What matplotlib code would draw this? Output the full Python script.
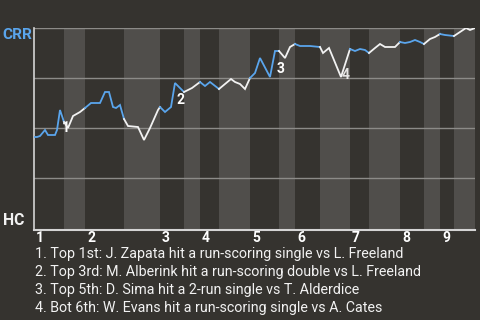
import matplotlib
matplotlib.use("Agg")
import matplotlib.pyplot as plt
import numpy as np

plt.rcParams['font.family'] = ['Roboto', 'DejaVu Sans']

# ---- data ----
# event index (x) and CRR win probability (y)
event_x = [0, 3, 6, 11, 14, 21, 23, 26, 30, 34, 39, 46, 51, 57, 66, 71, 75, 79, 82, 86, 90,
           94, 104, 110, 116, 124, 126, 131, 137, 141, 144, 150, 158, 166, 171, 176, 185,
           197, 201, 206, 211, 216, 221, 226, 236, 241, 245, 251, 256, 261, 266, 271, 276,
           286, 289, 295, 307, 316, 321, 326, 331, 335, 341, 346, 351, 361, 366, 371, 376,
           381, 386, 390, 396, 401, 406, 411, 420, 426, 432, 436, 441]
win_prob = [0.455, 0.455, 0.46, 0.49, 0.465, 0.465, 0.49, 0.59, 0.53, 0.50, 0.56, 0.58, 0.60,
            0.625, 0.625, 0.68, 0.68, 0.605, 0.60, 0.615, 0.545,
            0.51, 0.505, 0.44, 0.50, 0.59, 0.605, 0.58, 0.605, 0.725, 0.71, 0.68, 0.70, 0.73,
            0.71, 0.73, 0.695,
            0.745, 0.73, 0.72, 0.695, 0.75, 0.775, 0.85, 0.755, 0.885, 0.885, 0.85, 0.905,
            0.92, 0.91, 0.91, 0.91,
            0.905, 0.875, 0.90, 0.755, 0.895, 0.885, 0.895, 0.89, 0.875, 0.90, 0.92, 0.905,
            0.905, 0.93, 0.925, 0.93,
            0.94, 0.93, 0.92, 0.945, 0.955, 0.97, 0.965, 0.96, 0.98, 1.00, 0.99, 1.0]

# half-inning boundaries (event index): top 1st, bot 1st, top 2nd, ...
half_bounds = [0, 30, 51, 90, 126, 150, 166, 185, 216, 245, 261, 286, 316, 335, 366, 390, 406, 420, 441]
inning_labels = ['1', '2', '3', '4', '5', '6', '7', '8', '9']

event_ids = ['1', '2', '3', '4']
event_pos = [26, 141, 241, 307]
event_notes = [
    "1. Top 1st: J. Zapata hit a run-scoring single vs L. Freeland",
    "2. Top 3rd: M. Alberink hit a run-scoring double vs L. Freeland",
    "3. Top 5th: D. Sima hit a 2-run single vs T. Alderdice",
    "4. Bot 6th: W. Evans hit a run-scoring single vs A. Cates",
]
top_label = 'CRR'
bottom_label = 'HC'

# ---- style ----
BG = '#35332f'
BAND = '#504e4b'
BLUE = '#5aa5ec'
WHITE = '#f2f2f2'
GRID = '#8c8b88'
SPINE = '#d4d4d4'

fig = plt.figure(figsize=(4.8, 3.2), dpi=100, facecolor=BG)
ax = fig.add_axes([34/480, 90/320, 441/480, 202/320])
ax.set_facecolor(BG)

xmax = half_bounds[-1]
ax.set_xlim(0, xmax)
ax.set_ylim(-0.01, 1.0)

# alternating bands: bottom halves lighter
for i in range(len(half_bounds) - 1):
    if i % 2 == 1:
        ax.axvspan(half_bounds[i], half_bounds[i + 1], color=BAND, lw=0, zorder=0)

for gy in [0.25, 0.5, 0.75, 1.0]:
    ax.axhline(gy, color=GRID, lw=1.0, zorder=1)

ex = np.array(event_x)
wp = np.array(win_prob)
for i in range(len(half_bounds) - 1):
    a, b = half_bounds[i], half_bounds[i + 1]
    m = (ex >= a) & (ex <= b)
    ax.plot(ex[m], wp[m], color=BLUE if i % 2 == 0 else WHITE, lw=1.3,
            zorder=4, solid_joinstyle='miter', clip_on=True)

# event labels
offsets = [(2, -18), (2, -17), (2, -18), (1, 2)]
for lab, pos, off in zip(event_ids, event_pos, offsets):
    yv = wp[list(ex).index(pos)]
    ax.annotate(lab, (pos, yv), xytext=off, textcoords='offset pixels',
                ha='left', va='center', color='white', fontsize=10, fontweight='bold',
                alpha=0.85 if lab == '4' else 1.0, zorder=3)

# spines
for s in ['top', 'right']:
    ax.spines[s].set_visible(False)
ax.spines['left'].set_color(SPINE)
ax.spines['bottom'].set_color(SPINE)
ax.spines['left'].set_linewidth(1.2)
ax.spines['bottom'].set_linewidth(1.5)
ax.set_xticks([])
ax.set_yticks([])

# inning labels
for k, lab in enumerate(inning_labels):
    xpos = half_bounds[2 * k]
    ax.annotate(lab, (xpos, 0), xycoords=('data', 'axes fraction'), xytext=(2, -12),
                textcoords='offset pixels', ha='left', va='baseline',
                color='white', fontsize=10, fontweight='bold')

fig.text(2/480, 1 - 39/320, top_label, color=BLUE, fontsize=11.1, fontweight='bold',
         ha='left', va='baseline')
fig.text(3/480, 1 - 225/320, bottom_label, color=WHITE, fontsize=11.3, fontweight='bold',
         ha='left', va='baseline')

for j, note in enumerate(event_notes):
    fig.text(35/480, 1 - (258 + 18 * j)/320, note, color=WHITE, fontsize=10.3,
             ha='left', va='baseline')

fig.savefig('out.png', dpi=100, facecolor=BG)
